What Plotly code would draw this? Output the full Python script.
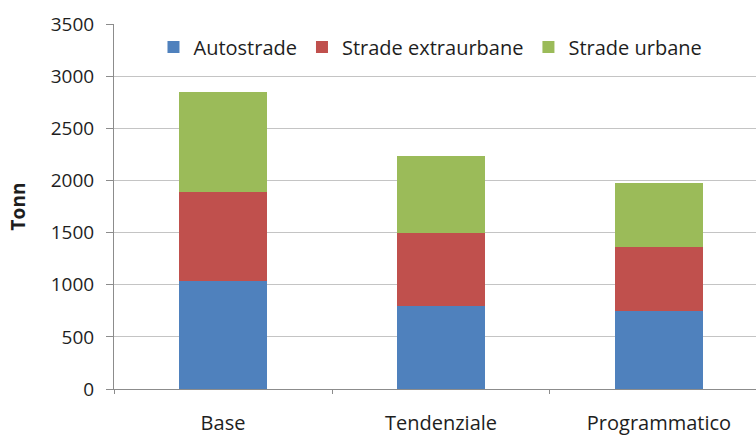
import plotly.graph_objects as go

# Scenari e valori per tipologia di strada (tonnellate)
scenari = ["Base", "Tendenziale", "Programmatico"]
autostrade = [1040, 800, 748]
extraurbane = [845, 700, 614]
urbane = [963, 735, 613]

serie = [
    ("Autostrade", autostrade, "#4F81BD"),
    ("Strade extraurbane", extraurbane, "#C0504D"),
    ("Strade urbane", urbane, "#9BBB59"),
]

FONT = "Open Sans"
TXT = "#1e1e1e"

fig = go.Figure()
for nome, valori, colore in serie:
    fig.add_trace(go.Bar(x=scenari, y=valori, name=nome,
                         marker=dict(color=colore, line=dict(width=0))))

fig.update_layout(
    width=756, height=436,
    barmode="stack", bargap=0.6,
    paper_bgcolor="white", plot_bgcolor="white",
    margin=dict(l=114, r=0, t=24, b=47),
    font=dict(family=FONT, size=19, color=TXT),
    showlegend=True,
    legend=dict(orientation="h", x=0.0615, xanchor="left", y=0.937, yanchor="middle",
                bgcolor="rgba(0,0,0,0)", font=dict(size=20, color=TXT),
                traceorder="normal"),
    xaxis=dict(range=[-0.5, 2.445], showline=True, linecolor="#8c8c8c", linewidth=1,
               ticks="outside", tickson="boundaries", ticklen=4, tickcolor="#8c8c8c",
               showgrid=False, ticklabelstandoff=16,
               tickfont=dict(size=20, color=TXT)),
    yaxis=dict(range=[0, 3500], dtick=500, showline=True, linecolor="#8c8c8c", linewidth=1,
               ticks="outside", ticklen=7, tickcolor="#8c8c8c", ticklabelstandoff=8,
               showgrid=True, gridcolor="#c4c4c4", gridwidth=1, zeroline=False,
               tickfont=dict(size=19, color=TXT),
               title=dict(text="<b>Tonn</b>", font=dict(size=19, color=TXT), standoff=20)),
)

fig.write_html("out.html")
